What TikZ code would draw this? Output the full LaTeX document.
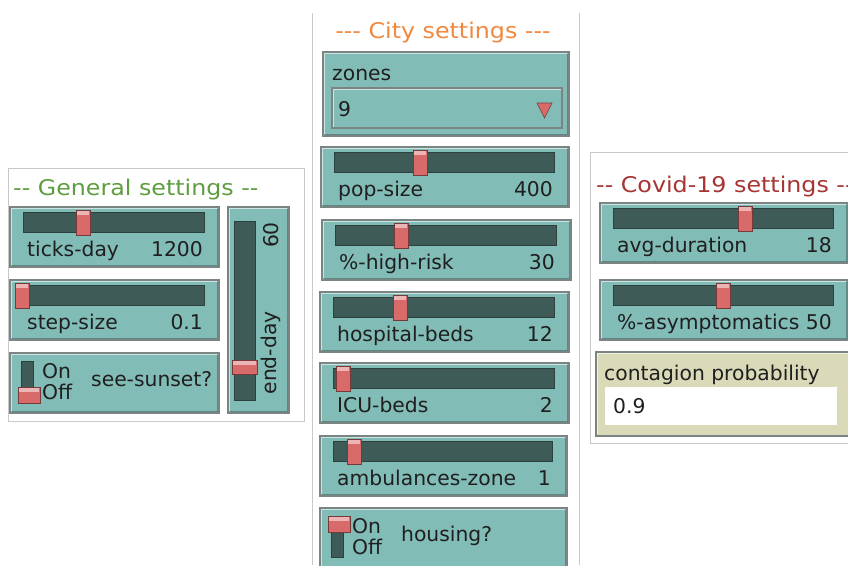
\documentclass[tikz,border=0pt]{standalone}
\usepackage{fontspec}
\setmainfont{DejaVu Sans}
\newfontfamily\headfont{DejaVu Sans}[FakeStretch=1.1]
\usetikzlibrary{calc}

\definecolor{wteal}{HTML}{82BCB6}
\definecolor{wtrack}{HTML}{3F5B57}
\definecolor{wthumb}{HTML}{D86A6A}
\definecolor{wedge}{HTML}{7A8583}
\definecolor{winput}{HTML}{DADAB8}
\definecolor{tgreen}{HTML}{5E9E40}
\definecolor{torange}{HTML}{F0883E}
\definecolor{tred}{HTML}{A83434}
\definecolor{pgray}{HTML}{C8C8C8}

\tikzset{
	widget/.style={fill=wteal, draw=wedge, line width=1.2pt},
	bevlight/.style={draw=white!60!wteal, line width=1.3pt},
	bevdark/.style={draw=wtrack!55!wteal, line width=1.3pt},
	track/.style={fill=wtrack, draw=wtrack!70!black, line width=0.8pt},
	thumb/.style={fill=wthumb, draw=wthumb!55!black, line width=0.6pt},
	lbl/.style={font=\fontsize{20.3}{22}\selectfont, inner sep=0pt, text=black!88},
	title/.style={font=\headfont\fontsize{21.6}{24}\selectfont, inner sep=0pt},
	panel/.style={draw=pgray, line width=0.8pt},
}

% light top/left, dark bottom/right
\newcommand{\bevel}[4]{
	\draw[bevlight] ({#1+1.8},{#4-1.8}) |- ({#3-1.8},{#2+1.8});
	\draw[bevdark] ({#1+1.8},{#4-1.8}) -| ({#3-1.8},{#2+1.8});
}

% name, left, top, right, thumb centre, label, value
\newcommand{\hslider}[7]{
	\draw[widget] ({#2},{#3}) rectangle ({#4},{#3+60});
	\bevel{#2}{#3}{#4}{#3+60}
	\draw[track] ({#2+13},{#3+5}) rectangle ({#4-15},{#3+25});
	\draw[thumb] ({#5-7},{#3+3}) rectangle ({#5+7},{#3+28});
	\fill[wthumb!50!white] ({#5-6},{#3+4}) rectangle ({#5+6},{#3+8});
	\node[lbl, anchor=base west] (#1-lbl) at ({#2+17},{#3+49}) {#6};
	\node[lbl, anchor=base east] (#1-val) at ({#4-16},{#3+49}) {#7};
}

% name, left, top, right, bottom, thumb offset, label
\newcommand{\switchbox}[7]{
	\draw[widget] ({#2},{#3}) rectangle ({#4},{#5});
	\bevel{#2}{#3}{#4}{#5}
	\draw[track] ({#2+11},{#3+8}) rectangle ({#2+23},{#3+49});
	\draw[thumb] ({#2+8},{#3+#6}) rectangle ({#2+30},{#3+#6+16});
	\fill[wthumb!50!white] ({#2+9},{#3+#6+1}) rectangle ({#2+29},{#3+#6+5});
	\node[lbl, anchor=base west] (#1-on) at ({#2+32},{#3+25}) {On};
	\node[lbl, anchor=base west] (#1-off) at ({#2+32},{#3+46}) {Off};
	\node[lbl, anchor=base west] (#1-lbl) at ({#2+81},{#3+33}) {#7};
}

\begin{document}
\begin{tikzpicture}[x=1pt, y=-1pt]
	\useasboundingbox[fill=white] (0,0) rectangle (848,565);

	% General settings
	\draw[panel] (8,168) rectangle (304,421);
	\node[title, text=tgreen, anchor=base west] (general) at (13,195) {-- General settings --};
	\hslider{ticks}{10}{207}{219}{83}{ticks-day}{1200}
	\hslider{stepsize}{10}{280}{219}{22}{step-size}{0.1}
	\switchbox{sunset}{10}{353}{219}{413}{34}{see-sunset?}
	\draw[widget] (228,207) rectangle (289,413);
	\bevel{228}{207}{289}{413}
	\draw[track] (234,221) rectangle (255,400);
	\draw[thumb] (232,360) rectangle (257,374);
	\fill[wthumb!50!white] (233,361) rectangle (256,365);
	\node[lbl, rotate=90] (endday-val) at (271,235) {60};
	\node[lbl, rotate=90] (endday-lbl) at (271,353) {end-day};

	% City settings
	\draw[panel] (312,13) -- (312,565) (579,13) -- (579,565);
	\node[title, text=torange, anchor=base] (city) at (443,38) {--- City settings ---};
	\draw[widget] (323,52) rectangle (569,136);
	\bevel{323}{52}{569}{136}
	\node[lbl, anchor=base west] (zones-lbl) at (332,80) {zones};
	\draw[fill=wteal, draw=wedge, line width=1.2pt] (332,88) rectangle (562,128);
	\draw[bevlight] (333.5,126.5) |- (560.5,89.5);
	\node[lbl, anchor=base west] (zones-val) at (338,116) {9};
	\draw[thumb] (537,103) -- (552,103) -- (544.5,118) -- cycle;
	\hslider{popsize}{321}{147}{569}{420}{pop-size}{400}
	\hslider{highrisk}{322}{220}{571}{401}{\%-high-risk}{30}
	\hslider{hospbeds}{320}{292}{569}{400}{hospital-beds}{12}
	\hslider{icubeds}{320}{363}{569}{343}{ICU-beds}{2}
	\hslider{ambulances}{320}{436}{567}{354}{ambulances-zone}{1}
	\switchbox{housing}{320}{508}{567}{580}{8}{housing?}

	% Covid-19 settings
	\draw[panel] (590,152) rectangle (860,443);
	\node[title, text=tred, anchor=base west] (covid) at (596,192) {-- Covid-19 settings --};
	\hslider{avgdur}{600}{203}{848}{745}{avg-duration}{18}
	\hslider{asympt}{600}{280}{848}{723}{\%-asymptomatics}{50}
	\draw[fill=winput, draw=wedge, line width=1.2pt] (596,352) rectangle (852,436);
	\draw[draw=white!60!winput, line width=1.3pt] (597.8,434.2) |- (852,353.8);
	\node[lbl, anchor=base west] (contagion-lbl) at (604,380) {contagion probability};
	\fill[white] (605,387) rectangle (837,425);
	\node[lbl, anchor=base west] (contagion-val) at (613,413) {0.9};
\end{tikzpicture}
\end{document}
